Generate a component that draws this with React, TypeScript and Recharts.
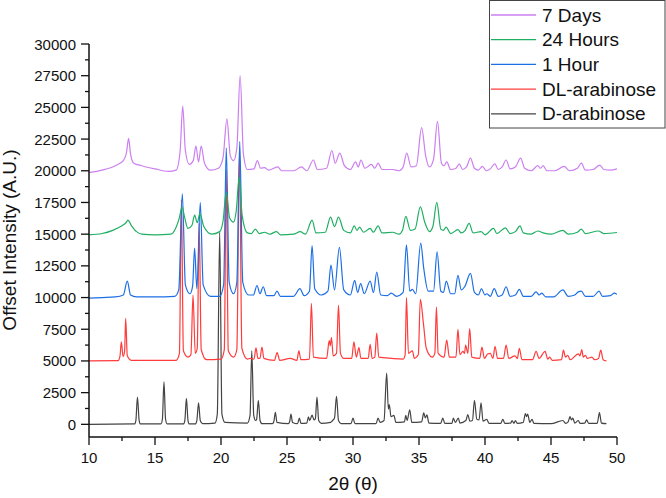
import { LineChart, Line, XAxis, YAxis } from "recharts";

// [2θ, offset intensity] pairs
const days7: [number, number][] = [
  [10, 19850], [11, 20050], [12, 20400], [12.6, 20800], [12.85, 21500], [13.0, 22550], [13.15, 21300],
  [13.4, 20600], [14, 20400], [15, 20150], [16, 19950], [16.6, 20050], [16.9, 21500], [17.1, 25100],
  [17.3, 21600], [17.6, 20500], [17.9, 20800], [18.1, 21950], [18.3, 20700], [18.5, 21950], [18.75, 20600],
  [19.2, 20050], [19.8, 20200], [20.15, 21000], [20.45, 24100], [20.7, 21200], [20.95, 20800], [21.2, 21800],
  [21.45, 27500], [21.7, 21300], [22.0, 20100], [22.5, 20150], [22.75, 20800], [23.0, 20200], [23.3, 20250],
  [23.6, 20050], [24.3, 20300], [24.6, 20000], [25.5, 20000], [26.1, 20300], [26.5, 20000], [27.0, 20850],
  [27.3, 20100], [28.0, 20200], [28.4, 21600], [28.65, 20600], [29.0, 21400], [29.35, 20400], [29.8, 20100],
  [30.2, 20700], [30.4, 20300], [30.6, 20850], [30.9, 20200], [31.4, 20500], [31.65, 20200], [31.9, 20600],
  [32.2, 20100], [33.0, 20100], [33.5, 20000], [33.8, 20300], [34.07, 21400], [34.4, 20300], [34.8, 20400],
  [35.2, 23400], [35.5, 21200], [35.8, 20300], [36.1, 20900], [36.4, 23900], [36.7, 20600], [36.9, 20400],
  [37.1, 20700], [37.4, 20100], [37.8, 20200], [38.05, 20550], [38.3, 20100], [38.6, 20300], [38.9, 21000],
  [39.2, 20200], [39.5, 20050], [39.8, 20350], [40.1, 20000], [40.4, 20150], [40.75, 20550], [41.0, 20100],
  [41.3, 20300], [41.6, 20850], [41.9, 20150], [42.3, 20300], [42.7, 21000], [43.0, 20200], [43.5, 20000],
  [44.0, 20400], [44.2, 20200], [44.4, 20400], [44.7, 20000], [45.3, 20000], [46.0, 20350], [46.4, 20000],
  [47.0, 20200], [47.3, 20600], [47.6, 20050], [48.2, 20100], [48.7, 20450], [49.0, 20100], [49.5, 20050],
  [50, 20150],
];

const hours24: [number, number][] = [
  [10, 14950], [11, 15050], [11.8, 15300], [12.4, 15600], [12.8, 15900], [12.95, 16100], [13.2, 15700],
  [13.6, 15200], [14, 15000], [15, 14950], [16.2, 15000], [16.6, 15550], [16.85, 16300], [17.05, 17150],
  [17.25, 16300], [17.5, 15450], [17.8, 15700], [18.0, 16500], [18.2, 15900], [18.4, 16650], [18.7, 15600],
  [19.3, 15000], [19.9, 15200], [20.15, 16000], [20.4, 18300], [20.65, 16300], [20.95, 15950], [21.15, 16800],
  [21.38, 19500], [21.6, 16500], [22.0, 15100], [22.3, 15050], [22.6, 15400], [22.9, 15050], [23.3, 15150],
  [23.7, 15000], [24.2, 15200], [24.5, 14950], [25.5, 15000], [26.0, 15200], [26.4, 15000], [26.9, 16100],
  [27.2, 15100], [27.9, 15150], [28.3, 16350], [28.6, 15600], [28.9, 16350], [29.3, 15300], [29.8, 15100],
  [30.1, 15650], [30.3, 15300], [30.5, 15550], [30.8, 15150], [31.3, 15450], [31.55, 15150], [31.9, 15650],
  [32.2, 15100], [33.0, 15150], [33.5, 15000], [33.75, 15300], [34.0, 16400], [34.35, 15300], [34.7, 15400],
  [35.1, 17150], [35.45, 15900], [35.8, 15200], [36.05, 15600], [36.35, 17500], [36.65, 15400], [36.85, 15300],
  [37.05, 15550], [37.4, 15050], [37.95, 15350], [38.2, 15100], [38.5, 15300], [38.8, 15850], [39.1, 15100],
  [39.7, 15200], [40.0, 14950], [40.65, 15450], [40.9, 15050], [41.55, 15500], [41.9, 15050], [42.3, 15200],
  [42.65, 15650], [42.9, 15100], [43.5, 15000], [44.0, 15250], [44.4, 15100], [45.0, 15000], [45.9, 15300],
  [46.3, 15000], [47.0, 15150], [47.3, 15400], [47.6, 15050], [48.6, 15250], [49.0, 15050], [50, 15130],
];

const hour1: [number, number][] = [
  [10, 9950], [11, 10000], [12, 10050], [12.6, 10200], [12.9, 11300], [13.15, 10200], [13.6, 10050],
  [15, 10050], [16.5, 10100], [16.8, 10600], [17.07, 18200], [17.3, 11000], [17.65, 10300], [17.85, 10900],
  [18.0, 13900], [18.17, 10700], [18.43, 17500], [18.65, 11000], [19.2, 10100], [19.9, 10100], [20.2, 11000],
  [20.4, 21800], [20.62, 11200], [20.95, 10300], [21.2, 11200], [21.42, 22300], [21.65, 11200], [22.1, 10200],
  [22.45, 10200], [22.73, 10950], [22.95, 10300], [23.2, 10850], [23.45, 10150], [24.0, 10150], [24.24, 10500],
  [24.5, 10100], [25.5, 10100], [25.98, 10700], [26.3, 10150], [26.7, 10500], [26.9, 14100], [27.1, 10700],
  [27.6, 10200], [28.1, 10500], [28.33, 12550], [28.6, 10600], [28.97, 13950], [29.3, 10600], [29.8, 10200],
  [30.13, 11350], [30.35, 10400], [30.58, 11100], [30.85, 10300], [31.3, 11300], [31.55, 10400], [31.8, 12000],
  [32.1, 10200], [32.6, 10150], [32.9, 10350], [33.3, 10100], [33.8, 10400], [34.05, 14150], [34.3, 10500],
  [34.5, 10650], [34.75, 10300], [35.13, 14300], [35.36, 12300], [35.7, 10500], [36.1, 10500], [36.37, 13600],
  [36.65, 10500], [36.85, 10400], [37.07, 11300], [37.4, 10300], [37.7, 10300], [37.95, 11750], [38.2, 10600],
  [38.46, 10850], [38.9, 11900], [39.2, 10400], [39.5, 10200], [39.73, 10700], [40.0, 10200], [40.13, 10300],
  [40.4, 10100], [40.7, 10700], [41.0, 10100], [41.3, 10200], [41.6, 10850], [41.9, 10100], [42.3, 10200],
  [42.6, 10650], [42.9, 10100], [43.5, 10100], [43.87, 10450], [44.1, 10200], [44.3, 10350], [44.6, 10050],
  [45.2, 10050], [45.9, 10600], [46.3, 10100], [46.8, 10200], [47.07, 10450], [47.3, 10500], [47.6, 10100],
  [48.2, 10100], [48.64, 10500], [48.9, 10100], [49.5, 10150], [49.8, 10350], [50, 10250],
];

const dlArabinose: [number, number][] = [
  [10, 5000], [12.2, 5020], [12.35, 5400], [12.45, 6500], [12.58, 5350], [12.7, 5800], [12.78, 8350],
  [12.9, 5400], [13.2, 5050], [16.6, 5050], [16.85, 5600], [17.0, 17700], [17.15, 5800], [17.5, 5300],
  [17.72, 5500], [17.88, 10200], [18.05, 5600], [18.2, 6000], [18.35, 15850], [18.5, 5900], [18.9, 5100],
  [20.0, 5150], [20.25, 5900], [20.4, 20050], [20.55, 5800], [20.95, 5300], [21.2, 5900], [21.4, 21500],
  [21.58, 6000], [22.0, 5150], [22.2, 5200], [22.5, 5150], [22.65, 6030], [22.8, 5200], [22.95, 5200],
  [23.1, 6100], [23.25, 5200], [24.05, 5050], [24.25, 5650], [24.45, 5050], [25.25, 5200], [25.75, 5050],
  [25.9, 5800], [26.05, 5100], [26.7, 5150], [26.85, 9550], [27.0, 5300], [28.0, 5200], [28.2, 6600],
  [28.28, 6200], [28.37, 6850], [28.5, 5400], [28.75, 5600], [28.9, 9400], [29.05, 5600], [29.3, 5200],
  [29.9, 5200], [30.07, 6500], [30.25, 5300], [30.45, 6050], [30.6, 5200], [31.15, 5200], [31.3, 6300],
  [31.45, 5200], [31.65, 5300], [31.8, 7200], [31.95, 5300], [32.95, 5200], [33.8, 5150], [33.95, 5500],
  [34.05, 10000], [34.2, 5600], [34.5, 5800], [34.65, 5200], [34.95, 5500], [35.1, 9850], [35.35, 7800],
  [35.55, 6000], [36.0, 5300], [36.2, 5600], [36.32, 9250], [36.45, 5600], [36.9, 5300], [37.1, 6650],
  [37.3, 5300], [37.8, 5300], [37.95, 7500], [38.1, 5500], [38.33, 5750], [38.45, 5600], [38.53, 6250],
  [38.7, 5600], [38.84, 7550], [39.0, 5300], [39.6, 5200], [39.77, 6100], [39.95, 5200], [40.2, 5550],
  [40.4, 5600], [40.6, 5200], [40.76, 6150], [40.95, 5200], [41.4, 5200], [41.6, 6250], [41.8, 5200],
  [42.27, 5400], [42.45, 5200], [42.6, 6000], [42.8, 5100], [43.6, 5100], [43.87, 5750], [44.1, 5200],
  [44.55, 5750], [44.75, 5150], [44.9, 5300], [45.1, 5050], [45.8, 5100], [45.94, 5850], [46.1, 5300],
  [46.27, 5450], [46.45, 5100], [47.07, 5550], [47.2, 5400], [47.33, 5900], [47.45, 5300], [47.6, 5450],
  [47.75, 5200], [48.1, 5300], [48.3, 5100], [48.6, 5200], [48.77, 5850], [48.95, 5100], [49.2, 5000],
];

const dArabinose: [number, number][] = [
  [10, 0], [13.45, 30], [13.55, 300], [13.67, 2150], [13.8, 300], [13.9, 30], [15.45, 30], [15.56, 400],
  [15.68, 3350], [15.8, 400], [15.92, 30], [17.15, 30], [17.26, 300], [17.38, 2050], [17.5, 300], [17.6, 30],
  [18.05, 30], [18.17, 300], [18.3, 1700], [18.43, 300], [18.6, 50], [19.55, 100], [19.72, 800], [19.9, 15150],
  [20.07, 800], [20.3, 150], [22.0, 100], [22.2, 700], [22.33, 5800], [22.48, 700], [22.62, 300], [22.7, 400],
  [22.83, 1900], [22.96, 300], [23.1, 50], [23.9, 50], [24.0, 200], [24.12, 950], [24.24, 150], [25.1, 50],
  [25.2, 200], [25.3, 800], [25.42, 150], [25.8, 50], [25.94, 500], [26.05, 80], [26.5, 100], [26.62, 580],
  [26.72, 300], [26.9, 720], [27.05, 350], [27.15, 450], [27.27, 2150], [27.4, 300], [27.6, 80], [28.3, 150],
  [28.45, 300], [28.6, 500], [28.75, 2200], [28.9, 300], [29.1, 50], [29.85, 50], [30.0, 500], [30.15, 50],
  [31.75, 50], [31.9, 500], [32.05, 150], [32.35, 300], [32.55, 4050], [32.68, 1200], [32.75, 1550],
  [32.88, 600], [33.1, 700], [33.25, 150], [33.9, 200], [34.0, 700], [34.1, 300], [34.3, 1150], [34.45, 150],
  [35.2, 200], [35.36, 900], [35.48, 500], [35.6, 750], [35.75, 100], [36.65, 80], [36.8, 500], [36.95, 80],
  [37.5, 80], [37.6, 500], [37.75, 150], [37.98, 500], [38.1, 100], [38.55, 300], [38.7, 760], [38.85, 250],
  [39.05, 300], [39.2, 1900], [39.38, 400], [39.55, 350], [39.7, 1700], [39.85, 250], [40.13, 400],
  [40.3, 80], [41.2, 80], [41.35, 400], [41.5, 80], [41.95, 100], [42.05, 300], [42.2, 80], [42.3, 300],
  [42.45, 80], [42.9, 150], [43.06, 850], [43.15, 600], [43.23, 800], [43.4, 150], [43.56, 400], [43.7, 80],
  [45.0, 50], [45.9, 300], [46.1, 80], [46.3, 200], [46.44, 600], [46.55, 350], [46.65, 500], [46.8, 100],
  [47.07, 300], [47.2, 80], [47.55, 100], [47.7, 350], [47.85, 80], [48.5, 80], [48.67, 920], [48.82, 100],
  [49.2, 50],
];

const xTicks = [10, 12.5, 15, 17.5, 20, 22.5, 25, 27.5, 30, 32.5, 35, 37.5, 40, 42.5, 45, 47.5, 50];
const yTicks = [
  0, 1250, 2500, 3750, 5000, 6250, 7500, 8750, 10000, 11250, 12500, 13750, 15000, 16250, 17500, 18750,
  20000, 21250, 22500, 23750, 25000, 26250, 27500, 28750, 30000,
];

const series = [
  { name: "7 Days", points: days7, color: "#cc7ff0" },
  { name: "24 Hours", points: hours24, color: "#1faf62" },
  { name: "1 Hour", points: hour1, color: "#1d6fe6" },
  { name: "DL-arabinose", points: dlArabinose, color: "#ff3b3b" },
  { name: "D-arabinose", points: dArabinose, color: "#444444" },
];

const font = "'Liberation Sans', Arial, sans-serif";

const XTick = (props: any) => {
  const { x, y, payload } = props;
  const major = payload.value % 5 === 0;
  return (
    <g>
      <line x1={x} x2={x} y1={y} y2={y + (major ? 8 : 4)} stroke="#111" strokeWidth={1.3} />
      {major && (
        <text x={x} y={y + 26} textAnchor="middle" fontSize={15} fontFamily={font} fill="#111">
          {payload.value}
        </text>
      )}
    </g>
  );
};

const YTick = (props: any) => {
  const { x, y, payload } = props;
  const major = payload.value % 2500 === 0;
  return (
    <g>
      <line x1={x} x2={x - (major ? 8 : 4)} y1={y} y2={y} stroke="#111" strokeWidth={1.3} />
      {major && (
        <text x={x - 13} y={y + 5.5} textAnchor="end" fontSize={15} fontFamily={font} fill="#111">
          {payload.value}
        </text>
      )}
    </g>
  );
};

export default function App() {
  return (
    <div style={{ position: "absolute", left: 0, top: 0, width: 666, height: 498, background: "#fff" }}>
      <LineChart width={666} height={498} margin={{ top: 44, right: 49, bottom: 0, left: 0 }}>
        <XAxis
          type="number"
          dataKey="x"
          domain={[10, 50]}
          ticks={xTicks}
          interval={0}
          height={61}
          tickSize={0}
          tickMargin={0}
          tickLine={false}
          axisLine={{ stroke: "#111", strokeWidth: 1.5 }}
          tick={<XTick />}
          allowDataOverflow
        />
        <YAxis
          type="number"
          domain={[-1000, 30000]}
          ticks={yTicks}
          interval={0}
          width={89}
          tickSize={0}
          tickMargin={0}
          tickLine={false}
          axisLine={{ stroke: "#111", strokeWidth: 1.5 }}
          tick={<YTick />}
          allowDataOverflow
        />
        {series
          .slice()
          .reverse()
          .map((s) => (
            <Line
              key={s.name}
              name={s.name}
              data={s.points.map(([x, y]) => ({ x, y }))}
              dataKey="y"
              type="monotone"
              stroke={s.color}
              strokeWidth={1.2}
              dot={false}
              isAnimationActive={false}
            />
          ))}
      </LineChart>
      <svg
        width={666}
        height={498}
        style={{ position: "absolute", left: 0, top: 0, pointerEvents: "none" }}
      >
        <text
          x={15.5}
          y={240}
          transform="rotate(-90 15.5 240)"
          textAnchor="middle"
          fontSize={19}
          fontFamily={font}
          fill="#111"
        >
          Offset Intensity (A.U.)
        </text>
        <text x={353} y={490} textAnchor="middle" fontSize={19} fontFamily={font} fill="#111">
          2θ (θ)
        </text>
        <rect x={489.5} y={0.5} width={175.5} height={127.5} fill="#fff" stroke="#444" strokeWidth={1} />
        {series.map((s, i) => (
          <g key={s.name}>
            <line x1={491} x2={536} y1={15 + i * 24.7} y2={15 + i * 24.7} stroke={s.color} strokeWidth={1.3} />
            <text x={542} y={15 + i * 24.7 + 6.5} fontSize={19} fontFamily={font} fill="#111">
              {s.name}
            </text>
          </g>
        ))}
      </svg>
    </div>
  );
}
